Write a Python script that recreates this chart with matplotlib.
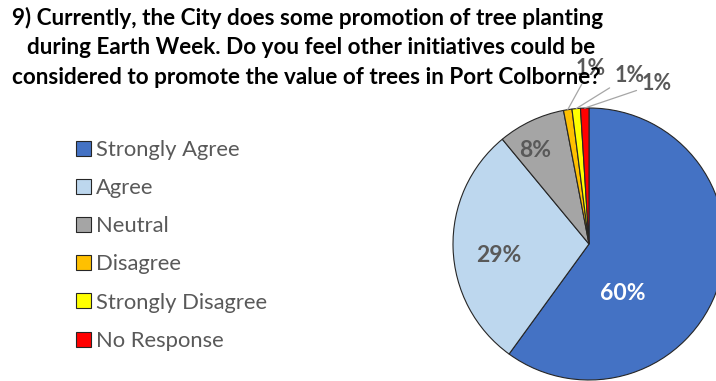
import numpy as np
import matplotlib
matplotlib.use("Agg")
import matplotlib.pyplot as plt

# survey responses, question 9
categories = ["Strongly Agree", "Agree", "Neutral", "Disagree",
              "Strongly Disagree", "No Response"]
percents = [60, 29, 8, 1, 1, 1]
colors = ["#4472C4", "#BDD7EE", "#A5A5A5", "#FFC000", "#FFFF00", "#FF0000"]

title_lines = [
    "9) Currently, the City does some promotion of tree planting",
    "during Earth Week. Do you feel other initiatives could be",
    "considered to promote the value of trees in Port Colborne?",
]

W, H = 716, 381
fig = plt.figure(figsize=(W / 100, H / 100), dpi=100)
plt.rcParams["font.family"] = ["Lato", "DejaVu Sans"]

# pie axes: centre (589, 244) px, radius 136 px
r_px = 136
cx, cy = 589, 244
ax = fig.add_axes([(cx - r_px) / W, (H - cy - r_px) / H, 2 * r_px / W, 2 * r_px / H])
wedges, _ = ax.pie(percents, colors=colors, startangle=90, counterclock=False,
                   wedgeprops=dict(edgecolor="#262626", linewidth=0.8))
ax.set_xlim(-1, 1)
ax.set_ylim(-1, 1)
ax.set_aspect("equal")
ax.axis("off")
for w in wedges:
    w.set_clip_on(False)

# label placement (radius, angle in degrees) for the big slices
big_pos = {0: (0.44, -56), 1: (0.67, 187), 2: (0.79, 120)}
for i, (r, a) in big_pos.items():
    col = "white" if i == 0 else "#595959"
    ax.text(r * np.cos(np.radians(a)), r * np.sin(np.radians(a)),
            f"{percents[i]}%", ha="center", va="center", fontsize=16.5,
            fontweight="bold", color=col)

# the three small slices use leader lines
small_text = {3: (0.01, 1.29), 4: (0.30, 1.24), 5: (0.50, 1.18)}
for i, (tx, ty) in small_text.items():
    w = wedges[i]
    mid = np.radians((w.theta1 + w.theta2) / 2)
    ax.annotate(f"{percents[i]}%", xy=(np.cos(mid), np.sin(mid)),
                xytext=(tx, ty), ha="center", va="center", fontsize=15.5,
                fontweight="bold", color="#595959", annotation_clip=False,
                arrowprops=dict(arrowstyle="-", color="#A6A6A6", lw=0.9,
                                shrinkA=2, shrinkB=0))

# title lines
title_x = [12, 27, 12]
title_y = [18, 48, 77]
for s, x, y in zip(title_lines, title_x, title_y):
    fig.text(x / W, 1 - y / H, s, ha="left", va="center", fontsize=16.2,
             fontweight="bold", color="black")

# legend
fig.legend(wedges, categories, loc="upper left",
           bbox_to_anchor=(67 / W, 1 - 131 / H), frameon=False,
           fontsize=15.8, labelcolor="#595959", handlelength=0.68,
           handleheight=0.68, handletextpad=0.25, labelspacing=0.83,
           borderaxespad=0)

fig.savefig("out.png", dpi=100)
